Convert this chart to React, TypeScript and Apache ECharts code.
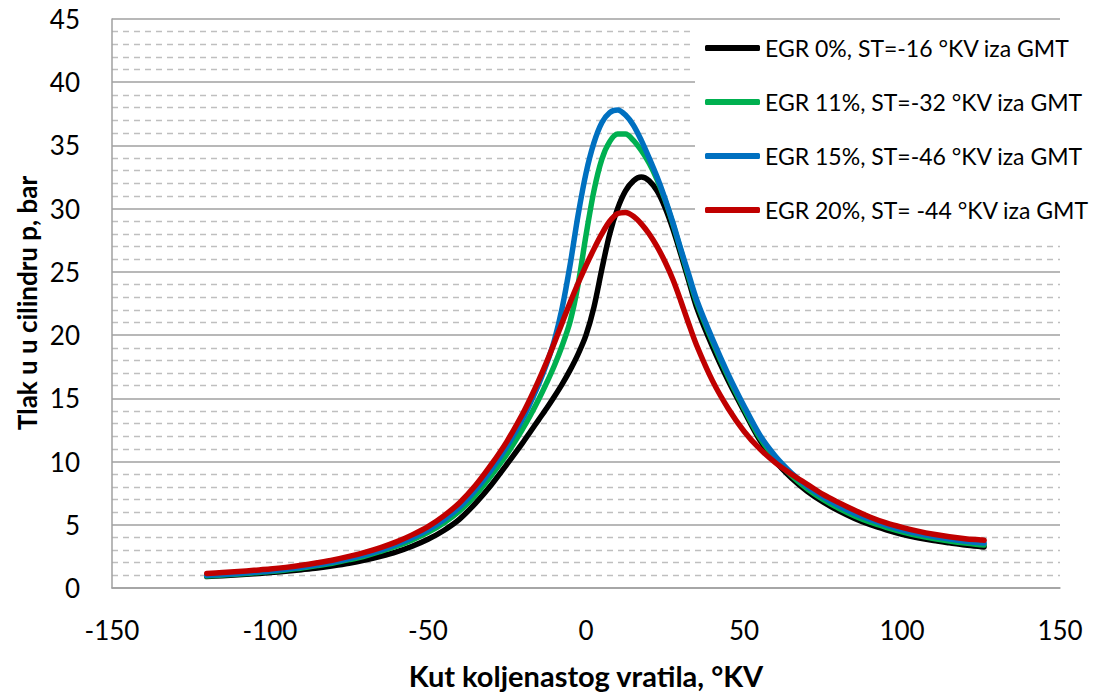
import React, { useEffect, useRef } from "react";
import * as echarts from "echarts";

const angles = [
  -120, -115, -110, -105, -100, -95, -90, -85, -80, -75, -70, -65, -60, -55, -50, -45, -40, -35, -30, -25,
  -20, -17.5, -15, -12.5, -10, -7.5, -5, -2.5, 0, 2.5, 5, 7.5, 10, 12.5, 15, 17.5, 20, 22.5, 25, 27.5, 30, 32.5, 35,
  40, 45, 50, 55, 60, 65, 70, 75, 80, 85, 90, 95, 100, 105, 110, 115, 120, 125, 126,
];

const egr0 = [
  0.9, 0.97, 1.04, 1.12, 1.22, 1.33, 1.45, 1.58, 1.75, 1.95, 2.2, 2.5, 2.85, 3.3, 3.85, 4.55, 5.45, 6.7, 8.15, 9.8,
  11.5, 12.4, 13.3, 14.2, 15.15, 16.15, 17.25, 18.5, 20.0, 22.2, 25.2, 28.0, 30.0, 31.4, 32.2, 32.5, 32.2, 31.4, 30.1, 28.4, 26.4, 24.3, 22.2,
  19.1, 16.4, 14.0, 11.7, 10.0, 8.7, 7.65, 6.8, 6.1, 5.5, 5.0, 4.6, 4.25, 3.97, 3.75, 3.57, 3.4, 3.27, 3.25,
];
const egr11 = [
  0.95, 1.02, 1.1, 1.2, 1.3, 1.43, 1.58, 1.77, 1.98, 2.24, 2.53, 2.9, 3.3, 3.8, 4.4, 5.15, 6.1, 7.35, 8.9, 10.6,
  12.6, 13.7, 14.9, 16.2, 17.6, 19.2, 21.1, 24.0, 27.9, 31.4, 33.9, 35.3, 35.9, 35.9, 35.4, 34.6, 33.6, 32.3, 30.7, 28.8, 26.7, 24.6, 22.6,
  19.5, 16.7, 14.2, 11.9, 10.2, 8.9, 7.85, 7.0, 6.3, 5.7, 5.2, 4.8, 4.45, 4.15, 3.92, 3.72, 3.55, 3.42, 3.4,
];
const egr15 = [
  1.0, 1.07, 1.15, 1.25, 1.35, 1.49, 1.64, 1.83, 2.05, 2.32, 2.63, 3.0, 3.45, 3.97, 4.6, 5.4, 6.4, 7.75, 9.35, 11.2,
  13.4, 14.7, 16.1, 17.7, 19.6, 22.2, 25.6, 29.5, 32.8, 35.2, 36.8, 37.6, 37.8, 37.4, 36.6, 35.4, 34.0, 32.5, 30.8, 28.9, 26.8, 24.8, 22.8,
  19.7, 16.9, 14.4, 12.1, 10.4, 9.1, 8.05, 7.2, 6.5, 5.9, 5.4, 4.98, 4.6, 4.3, 4.07, 3.87, 3.7, 3.57, 3.55,
];
const egr20 = [
  1.15, 1.22, 1.3, 1.4, 1.5, 1.63, 1.8, 2.0, 2.22, 2.5, 2.82, 3.2, 3.65, 4.2, 4.85, 5.7, 6.75, 8.1, 9.75, 11.6,
  13.8, 15.05, 16.4, 17.85, 19.4, 21.0, 22.6, 24.1, 25.5, 26.8, 28.0, 29.0, 29.6, 29.7, 29.4, 28.8, 28.0, 27.0, 25.8, 24.4, 22.7, 20.9, 19.2,
  16.4, 14.2, 12.4, 11.0, 9.9, 9.0, 8.2, 7.4, 6.75, 6.15, 5.6, 5.15, 4.8, 4.5, 4.25, 4.05, 3.9, 3.8, 3.78,
];

const seriesNames = [
  "EGR 0%, ST=-16 °KV iza GMT",
  "EGR 11%, ST=-32 °KV iza GMT",
  "EGR 15%, ST=-46 °KV iza GMT",
  "EGR 20%, ST= -44 °KV iza GMT",
];
const seriesColors = ["#000000", "#00b050", "#0070c0", "#c00000"];
const seriesValues = [egr0, egr11, egr15, egr20];

const xTitle = "Kut koljenastog vratila, °KV";
const yTitle = "Tlak u u cilindru p, bar";

export default function App() {
  const ref = useRef<HTMLDivElement>(null);
  useEffect(() => {
    document.body.style.margin = "0";
    if (!ref.current) return;
    const chart = echarts.init(ref.current, null, { renderer: "svg" });
    const font = "Lato, 'Open Sans', sans-serif";
    chart.setOption({
      animation: false,
      backgroundColor: "#ffffff",
      textStyle: { fontFamily: font },
      grid: { left: 112, right: 36, top: 19, bottom: 108, containLabel: false },
      legend: {
        orient: "vertical",
        left: 695,
        top: 22,
        padding: [14, 2, 18, 10],
        backgroundColor: "#ffffff",
        icon: "roundRect",
        itemWidth: 55,
        itemHeight: 6,
        itemGap: 30,
        data: seriesNames,
        textStyle: { fontFamily: font, fontSize: 23, color: "#000", lineHeight: 24 },
      },
      graphic: [
        {
          type: "text",
          x: 27,
          y: 303,
          rotation: Math.PI / 2,
          style: {
            text: yTitle,
            fontFamily: font,
            fontSize: 26,
            fontWeight: "bold",
            fill: "#000",
            align: "center",
            verticalAlign: "middle",
          },
        },
      ],
      xAxis: {
        type: "value",
        min: -150,
        max: 150,
        interval: 50,
        axisLine: { show: true, onZero: false, lineStyle: { color: "#a0a0a0", width: 1.5 } },
        axisTick: { show: false },
        splitLine: { show: false },
        axisLabel: { fontFamily: font, fontSize: 26, color: "#000", margin: 29 },
        name: xTitle,
        nameLocation: "middle",
        nameGap: 73,
        nameTextStyle: { fontFamily: font, fontSize: 29, fontWeight: "bold", color: "#000" },
      },
      yAxis: [
        {
          type: "value",
          min: 0,
          max: 45,
          interval: 5,
          axisLine: { show: false },
          axisTick: { show: false },
          axisLabel: { fontFamily: font, fontSize: 26, color: "#000", margin: 32 },
          splitLine: { show: true, lineStyle: { color: "#a0a0a0", width: 1.5 } },
          minorTick: { show: false, splitNumber: 5 },
          minorSplitLine: { show: true, lineStyle: { color: "#bfbfbf", width: 1.3, type: [6, 5] } },
        },
        {
          type: "value",
          min: 0,
          max: 45,
          interval: 5,
          position: "left",
          axisLine: { show: true, onZero: true, lineStyle: { color: "#a0a0a0", width: 1.5 } },
          axisTick: { show: false },
          axisLabel: { show: false },
          splitLine: { show: false },
        },
      ],
      series: seriesNames.map((name, i) => ({
        name,
        type: "line",
        yAxisIndex: 0,
        data: angles.map((a, j) => [a, seriesValues[i][j]]),
        smooth: 0.3,
        symbol: "none",
        showSymbol: false,
        lineStyle: { color: seriesColors[i], width: 5.5, cap: "round", join: "round" },
        itemStyle: { color: seriesColors[i] },
        z: 3 + i,
      })),
    });
    return () => chart.dispose();
  }, []);
  return <div ref={ref} style={{ width: 1096, height: 696 }} />;
}
